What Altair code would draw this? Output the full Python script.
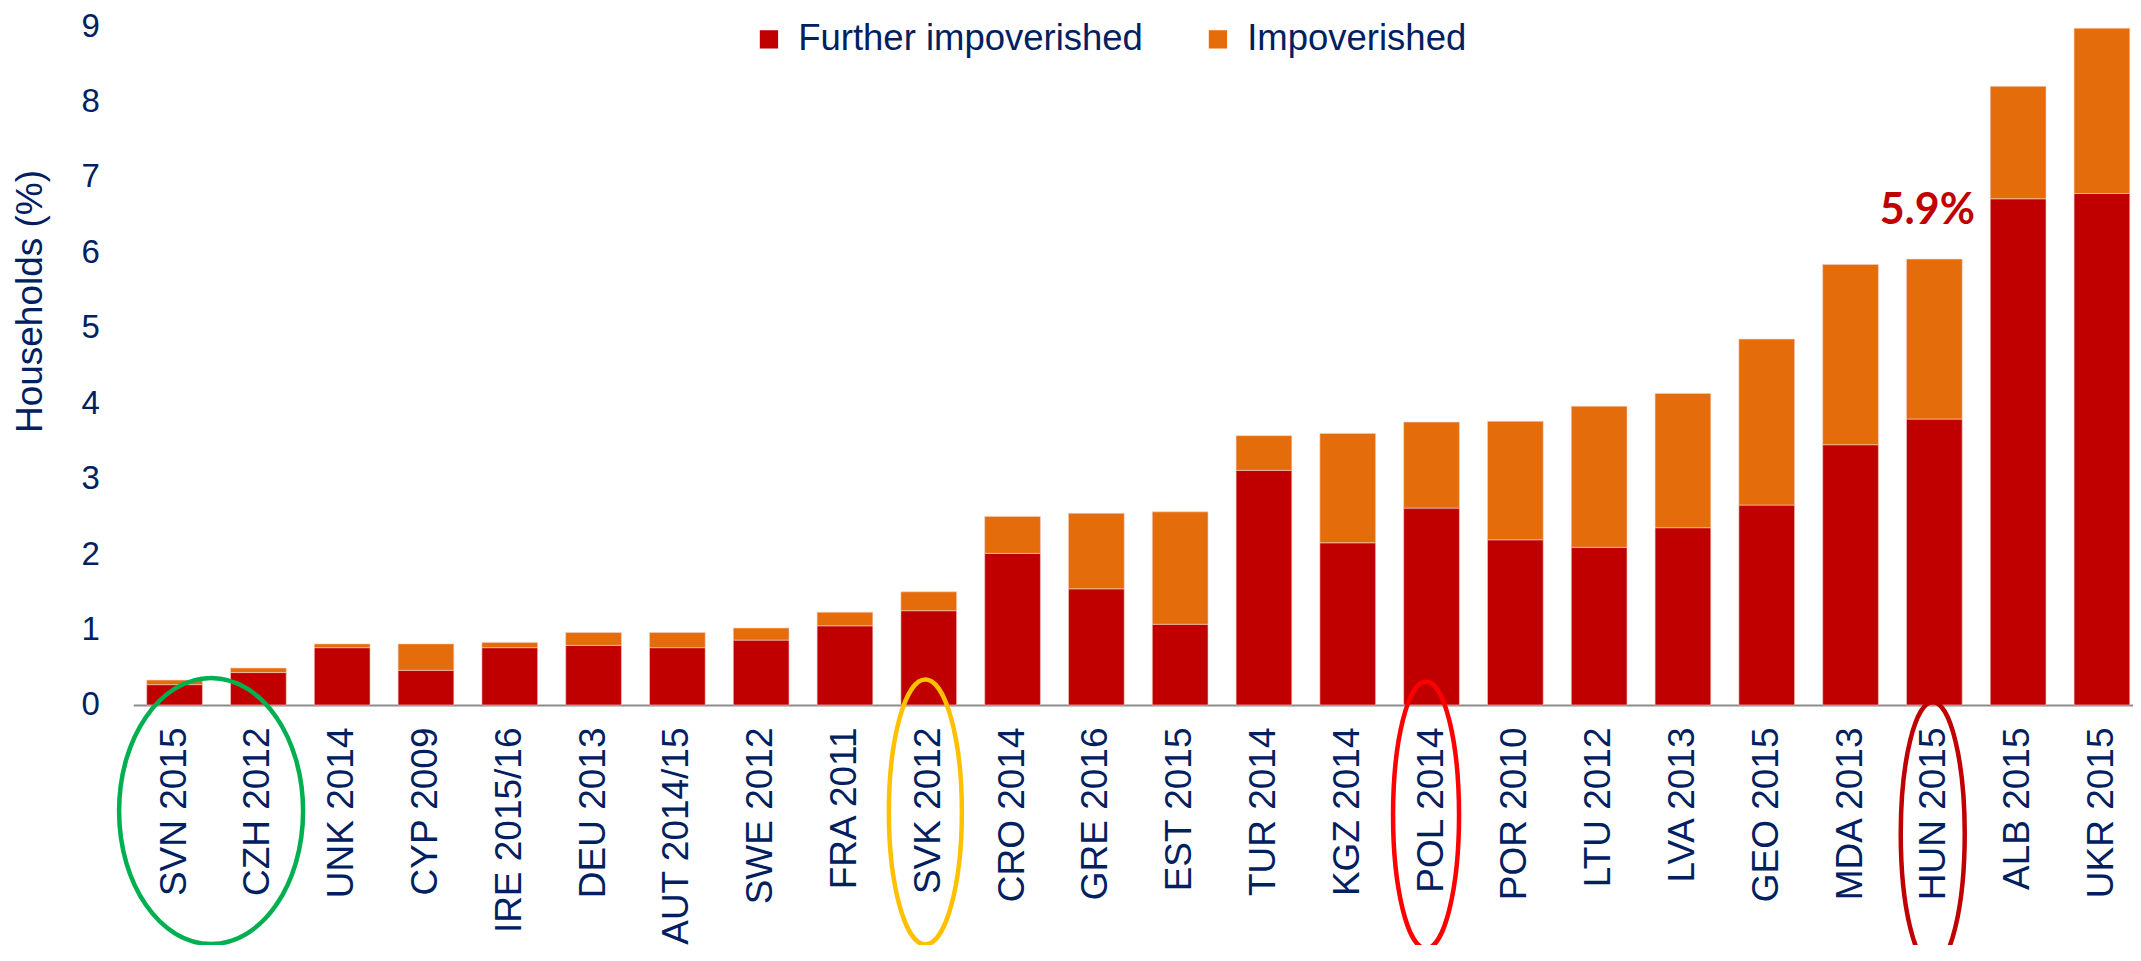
import altair as alt
import pandas as pd

# ---------------- data ----------------
categories = ["SVN 2015", "CZH 2012", "UNK 2014", "CYP 2009", "IRE 2015/16", "DEU 2013",
              "AUT 2014/15", "SWE 2012", "FRA 2011", "SVK 2012", "CRO 2014", "GRE 2016",
              "EST 2015", "TUR 2014", "KGZ 2014", "POL 2014", "POR 2010", "LTU 2012",
              "LVA 2013", "GEO 2015", "MDA 2013", "HUN 2015", "ALB 2015", "UKR 2015"]
further_impoverished = [0.27, 0.43, 0.76, 0.46, 0.76, 0.79, 0.76, 0.86, 1.05, 1.25, 2.01, 1.54,
                        1.07, 3.11, 2.15, 2.61, 2.19, 2.09, 2.35, 2.65, 3.45, 3.79, 6.71, 6.78]
impoverished = [0.06, 0.06, 0.05, 0.35, 0.07, 0.17, 0.20, 0.16, 0.18, 0.25, 0.49, 1.00,
                1.49, 0.46, 1.45, 1.14, 1.57, 1.87, 1.78, 2.20, 2.39, 2.12, 1.49, 2.19]
series = ["Further impoverished", "Impoverished"]
y_ticks = [0, 1, 2, 3, 4, 5, 6, 7, 8, 9]
highlight = "HUN 2015"

# ---------------- styles ----------------
NAVY = "#002060"
RED = "#C00000"
ORANGE = "#E46C0A"
FONT = "Liberation Sans"
PAD_TOP = 18
W, H = 1999.5, 679

rows = []
for c, f, i in zip(categories, further_impoverished, impoverished):
    rows.append({"cat": c, "series": series[0], "value": f, "order": 0})
    rows.append({"cat": c, "series": series[1], "value": i, "order": 1})
df = pd.DataFrame(rows)

x_scale = alt.Scale(domain=categories, paddingInner=0.335, paddingOuter=0.098, align=0.817)
y_scale = alt.Scale(domain=[0, 9], nice=False, zero=True)

x_axis = alt.Axis(title=None, labelAngle=-90, labelFontSize=37, labelColor=NAVY,
                  labelFont=FONT, labelPadding=22, ticks=False, tickSize=0,
                  domainColor="#8c8c8c", domainWidth=2, labelLimit=500, grid=False)
y_axis = alt.Axis(title="Households (%)", values=y_ticks, domain=False, ticks=False,
                  tickSize=0, grid=False, labelFontSize=33, labelColor=NAVY,
                  labelFont=FONT, labelPadding=34, titleFontSize=37,
                  titleFont=FONT, titleColor=NAVY, titleFontWeight="normal",
                  titleAngle=270, titleX=-92, titleY=275, titleAlign="center",
                  titleBaseline="alphabetic")

bars = alt.Chart(df).mark_bar(stroke="#f3d0c8", strokeWidth=0.6).encode(
    x=alt.X("cat:N", sort=categories, scale=x_scale, axis=x_axis),
    y=alt.Y("value:Q", stack="zero", scale=y_scale, axis=y_axis),
    color=alt.Color("series:N", scale=alt.Scale(domain=series, range=[RED, ORANGE]),
                    legend=alt.Legend(title=None, orient="none", legendX=617.4, legendY=-5,
                                      direction="horizontal", labelFontSize=36.5,
                                      labelColor=NAVY, labelFont=FONT, symbolType="square",
                                      symbolSize=335, symbolStrokeWidth=0, labelOffset=11,
                                      columnPadding=56, padding=0, labelLimit=700,
                                      symbolOpacity=1)),
    order=alt.Order("order:Q", sort="ascending"),
)

# highlighted total label
hi_idx = categories.index(highlight)
hi_total = further_impoverished[hi_idx] + impoverished[hi_idx]
label_df = pd.DataFrame({"cat": [highlight], "value": [hi_total],
                         "label": [f"{hi_total:.1f}%"]})
label = alt.Chart(label_df).mark_text(
    font="Lato", fontSize=43, fontWeight="bold", color=RED, dy=-35, xOffset=-7,
    baseline="alphabetic", align="center"
).encode(
    x=alt.X("cat:N", sort=categories, scale=x_scale, axis=x_axis),
    y=alt.Y("value:Q", scale=y_scale, axis=y_axis),
    text="label:N",
)


def ellipse_path(w, h):
    a = w / h
    k = 0.5523
    f = lambda v: f"{v:.4f}"
    return (f"M{f(-a)},0 C{f(-a)},{f(-k)} {f(-k*a)},-1 0,-1 "
            f"C{f(k*a)},-1 {f(a)},{f(-k)} {f(a)},0 "
            f"C{f(a)},{f(k)} {f(k*a)},1 0,1 "
            f"C{f(-k*a)},1 {f(-a)},{f(k)} {f(-a)},0 Z")


# annotation ellipses around axis labels: (category, colour, width, height, x offset, y offset)
ellipses = [
    ("SVN 2015", "#00B050", 184, 266, 36.5, 106),
    ("SVK 2012", "#FFC000", 73, 265, -3.4, 107),
    ("POL 2014", "#FF0000", 66, 267, -5.5, 110),
    ("HUN 2015", "#C00000", 64, 264, -1.6, 129),
]
ell_layers = []
for cat, col, w, h, xo, yo in ellipses:
    ell_layers.append(
        alt.Chart(pd.DataFrame({"cat": [cat], "value": [0.0]})).mark_point(
            shape=ellipse_path(w, h), size=h * h, filled=False, color=col,
            strokeWidth=4.5, opacity=1, xOffset=xo, yOffset=yo
        ).encode(
            x=alt.X("cat:N", sort=categories, scale=x_scale, axis=x_axis),
            y=alt.Y("value:Q", scale=y_scale, axis=y_axis),
        )
    )

chart = alt.layer(bars, label, *ell_layers).properties(
    width=W, height=H,
    background="white",
    autosize=alt.AutoSizeParams(type="none"),
    padding={"left": 125.3, "top": PAD_TOP, "right": 0, "bottom": 240},
).configure_view(stroke=None)

chart.save("out.html", embed_options={"renderer": "svg", "actions": False})
